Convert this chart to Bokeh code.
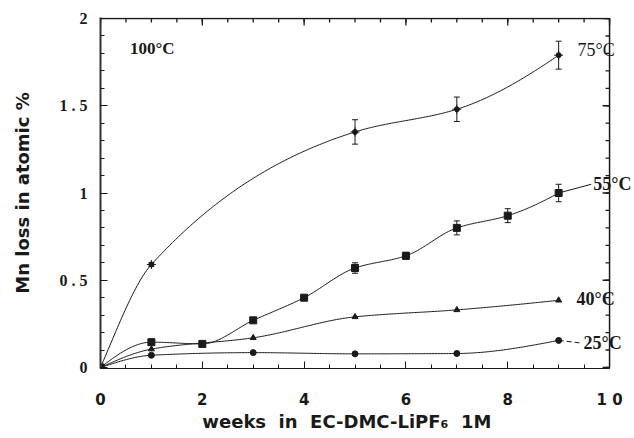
import numpy as np
from bokeh.plotting import figure
from bokeh.models import (FixedTicker, Range1d, Whisker, ColumnDataSource, Label, TeeHead)
from bokeh.embed import file_html
from bokeh.resources import INLINE

# ---- data ----
weeks_75 = [0, 1, 5, 7, 9]
loss_75 = [0.0, 0.59, 1.35, 1.48, 1.79]
err_75 = [0.0, 0.01, 0.07, 0.07, 0.08]

weeks_55 = [0, 1, 2, 3, 4, 5, 6, 7, 8, 9]
loss_55 = [0.0, 0.145, 0.135, 0.27, 0.40, 0.57, 0.64, 0.80, 0.87, 1.0]
err_55 = [0.0, 0.0, 0.0, 0.0, 0.0, 0.03, 0.02, 0.04, 0.04, 0.05]

weeks_40 = [0, 1, 3, 5, 7, 9]
loss_40 = [0.0, 0.105, 0.17, 0.29, 0.33, 0.385]

weeks_25 = [0, 1, 3, 5, 7, 9]
loss_25 = [0.0, 0.07, 0.085, 0.078, 0.08, 0.155]

temps = ["75°C", "55°C", "40°C", "25°C"]
label_x = [9.37, 9.68, 9.35, 9.49]
label_y = [1.82, 1.05, 0.39, 0.14]
label_bold = [False, True, True, True]

x_ticks = [0, 2, 4, 6, 8, 10]
x_tick_labels = ["0", "2", "4", "6", "8", "1 0"]
y_ticks = [0, 0.5, 1, 1.5, 2]
y_tick_labels = ["0", "0 . 5", "1", "1 . 5", "2"]
x_minor = [i * 0.5 for i in range(21)]
y_minor = [round(i * 0.1, 1) for i in range(21)]


def pchip(x, y, n=300):
    x = np.asarray(x, float)
    y = np.asarray(y, float)
    h = np.diff(x)
    d = np.diff(y) / h
    m = np.zeros_like(y)
    for k in range(1, len(x) - 1):
        if d[k - 1] * d[k] > 0:
            w1 = 2 * h[k] + h[k - 1]
            w2 = h[k] + 2 * h[k - 1]
            m[k] = (w1 + w2) / (w1 / d[k - 1] + w2 / d[k])

    def endslope(h0, h1, d0, d1):
        s = ((2 * h0 + h1) * d0 - h0 * d1) / (h0 + h1)
        if np.sign(s) != np.sign(d0):
            s = 0.0
        elif np.sign(d0) != np.sign(d1) and abs(s) > 3 * abs(d0):
            s = 3 * d0
        return s

    m[0] = endslope(h[0], h[1], d[0], d[1])
    m[-1] = endslope(h[-1], h[-2], d[-1], d[-2])
    xs = np.linspace(x[0], x[-1], n)
    idx = np.clip(np.searchsorted(x, xs) - 1, 0, len(h) - 1)
    t = (xs - x[idx]) / h[idx]
    h00 = 2 * t**3 - 3 * t**2 + 1
    h10 = t**3 - 2 * t**2 + t
    h01 = -2 * t**3 + 3 * t**2
    h11 = t**3 - t**2
    ys = h00 * y[idx] + h10 * h[idx] * m[idx] + h01 * y[idx + 1] + h11 * h[idx] * m[idx + 1]
    return xs, ys


INK = "#1a1a1a"
W, H = 634, 438
BL, BR, BT, BB = 100, 0, 17, 70
X_END = 10.49            # plotting area runs a little past 10 so the end labels fit
Y_START, Y_END = -0.006, 2.006   # a pixel of room so the box edges are not clipped

p = figure(width=W, height=H, x_range=Range1d(0, X_END), y_range=Range1d(Y_START, Y_END),
           output_backend="svg", toolbar_location=None,
           min_border_left=BL, min_border_right=BR, min_border_top=BT, min_border_bottom=BB)
p.grid.visible = False
p.outline_line_color = None

px_x = (W - BL - BR) / X_END
px_y = (H - BT - BB) / (Y_END - Y_START)

xt = FixedTicker(ticks=x_ticks, minor_ticks=x_minor)
yt = FixedTicker(ticks=y_ticks, minor_ticks=y_minor)

bx = p.xaxis[0]
ly = p.yaxis[0]
for ax, tk in ((bx, xt), (ly, yt)):
    ax.ticker = tk
    ax.major_tick_in = 7
    ax.major_tick_out = 0
    ax.minor_tick_in = 4
    ax.minor_tick_out = 0
    ax.axis_line_color = INK
    ax.major_tick_line_color = INK
    ax.minor_tick_line_color = INK
bx.bounds = (x_ticks[0], x_ticks[-1])
bx.major_label_overrides = {t: s for t, s in zip(x_ticks, x_tick_labels)}
ly.major_label_overrides = {t: s for t, s in zip(y_ticks, y_tick_labels)}
bx.major_label_text_font = "DejaVu Sans"
bx.major_label_text_font_style = "bold"
bx.major_label_text_font_size = "15px"
bx.major_label_text_color = INK
bx.major_label_standoff = 22
ly.major_label_text_font = "Liberation Serif"
ly.major_label_text_font_style = "bold"
ly.major_label_text_font_size = "16px"
ly.major_label_text_color = INK
ly.major_label_standoff = 13
ly.axis_line_width = 2
ly.axis_line_color = "#333333"

NB = "\u00a0"
bx.axis_label = ("weeks" + NB * 2 + "in" + NB * 2 + "EC-DMC-LiPF\u2086" + NB * 2 + "1M"
                 + NB * 6 + "\u2009")
ly.axis_label = "Mn loss in atomic %"
bx.axis_label_text_font = "DejaVu Sans"
bx.axis_label_text_font_style = "bold"
bx.axis_label_text_font_size = "18px"
bx.axis_label_text_color = INK
bx.axis_label_standoff = -1
ly.axis_label_text_font = "DejaVu Sans"
ly.axis_label_text_font_style = "bold"
ly.axis_label_text_font_size = "18px"
ly.axis_label_text_color = INK
ly.axis_label_standoff = 24

# curves
series = [(weeks_75, loss_75), (weeks_55, loss_55), (weeks_40, loss_40), (weeks_25, loss_25)]
for wx, wy in series:
    xs, ys = pchip(wx, wy)
    p.line(xs, ys, line_color=INK, line_width=1)

# leaders from last point towards the labels of 55 and 25
p.segment(x0=[float(weeks_55[-1])], y0=[loss_55[-1]], x1=[label_x[1] - 0.04], y1=[label_y[1]],
          line_color=INK, line_width=1)
p.segment(x0=[float(weeks_25[-1])], y0=[loss_25[-1]], x1=[label_x[3] - 0.04], y1=[label_y[3]],
          line_color=INK, line_width=1, line_dash="5 3")


def add_err(wx, wy, we):
    sel = [k for k in range(len(wx)) if we[k] > 0]
    src = ColumnDataSource(dict(x=[float(wx[k]) for k in sel],
                                lo=[wy[k] - we[k] for k in sel],
                                hi=[wy[k] + we[k] for k in sel]))
    w = Whisker(base="x", lower="lo", upper="hi", source=src, line_color=INK, line_width=1,
                lower_head=TeeHead(size=6, line_color=INK, line_width=1),
                upper_head=TeeHead(size=6, line_color=INK, line_width=1))
    p.add_layout(w)


add_err(weeks_75, loss_75, err_75)
add_err(weeks_55, loss_55, err_55)

# markers
p.scatter(weeks_75, loss_75, marker="circle", size=5, fill_color=INK, line_color=INK)
p.scatter(weeks_75, loss_75, marker="cross", size=9, line_color=INK, line_width=1)
p.scatter(weeks_55, loss_55, marker="square", size=7, fill_color=INK, line_color=INK)
p.scatter(weeks_40, loss_40, marker="triangle", size=6, fill_color=INK, line_color=INK)
p.scatter(weeks_25, loss_25, marker="circle", size=6, fill_color=INK, line_color=INK)

# right and top edges of the box (x = 10, y = 2), drawn after the data
x_lo, x_hi = float(x_ticks[0]), float(x_ticks[-1])
y_lo, y_hi = float(y_ticks[0]), float(y_ticks[-1])
p.line([x_hi, x_hi, x_lo], [y_lo, y_hi, y_hi], line_color=INK, line_width=1.5)
# inward ticks on the top and right edges
top_x = [float(v) for v in list(x_ticks) + list(x_minor)]
top_len = [7.0 / px_y] * len(x_ticks) + [4.0 / px_y] * len(x_minor)
p.segment(x0=top_x, y0=[y_hi] * len(top_x), x1=top_x,
          y1=[y_hi - L for L in top_len], line_color=INK, line_width=1.3)
right_y = [float(v) for v in list(y_ticks) + list(y_minor)]
right_len = [7.0 / px_x] * len(y_ticks) + [4.0 / px_x] * len(y_minor)
p.segment(x0=[x_hi] * len(right_y), y0=right_y, x1=[x_hi - L for L in right_len],
          y1=right_y, line_color=INK, line_width=1.3)

# labels
for t, lx, lyy, b in zip(temps, label_x, label_y, label_bold):
    p.add_layout(Label(x=lx, y=lyy, text=t, text_font="Liberation Serif",
                       text_font_size="18px", text_font_style="bold" if b else "normal",
                       text_baseline="middle", text_align="left", text_color=INK))
p.add_layout(Label(x=0.58, y=1.83, text="100°C", text_font="Liberation Serif",
                   text_font_size="17px", text_font_style="bold",
                   text_baseline="middle", text_align="left", text_color=INK))

open("out.html", "w").write(file_html(p, INLINE))
